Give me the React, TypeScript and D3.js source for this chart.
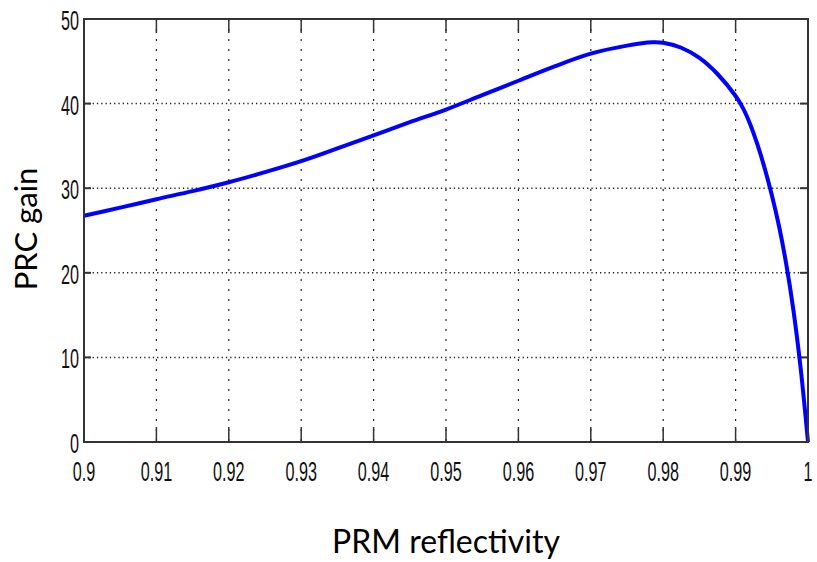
import React from "react";
import * as d3 from "d3";

// PRC gain as a function of PRM reflectivity
const reflectivity = [
  0.9, 0.905, 0.91, 0.915, 0.92, 0.925, 0.93, 0.935, 0.94, 0.945, 0.95, 0.955,
  0.96, 0.965, 0.97, 0.975, 0.9785, 0.98, 0.9825, 0.985, 0.9875, 0.99, 0.991,
  0.992, 0.993, 0.994, 0.995, 0.996, 0.997, 0.998, 0.999, 1.0,
];
const gain = [
  26.75, 27.7, 28.7, 29.65, 30.7, 31.9, 33.2, 34.7, 36.25, 37.8, 39.3, 41.0,
  42.7, 44.4, 45.9, 46.85, 47.25, 47.2, 46.6, 45.4, 43.5, 40.9, 39.5,
  37.6, 35.2, 32.4, 29.2, 25.5, 21.0, 15.5, 8.6, 0,
];

const xTicks = [0.9, 0.91, 0.92, 0.93, 0.94, 0.95, 0.96, 0.97, 0.98, 0.99, 1];
const xTickLabels = ["0.9", "0.91", "0.92", "0.93", "0.94", "0.95", "0.96", "0.97", "0.98", "0.99", "1"];
const yTicks = [0, 10, 20, 30, 40, 50];
const yTickLabels = ["0", "10", "20", "30", "40", "50"];

const W = 817;
const H = 562;
const left = 84;
const right = 808;
const top = 19;
const bottom = 442;

const tickFont = "'Liberation Sans', Arial, sans-serif";
const titleFont = "Lato, 'Open Sans', sans-serif";
const squeeze = 0.6;

export default function App() {
  const x = d3.scaleLinear().domain([0.9, 1]).range([left, right]);
  const y = d3.scaleLinear().domain([0, 50]).range([bottom, top]);
  const pts: [number, number][] = reflectivity.map((r, i) => [r, gain[i]]);
  const line = d3
    .line<[number, number]>()
    .x((d) => x(d[0]))
    .y((d) => y(d[1]))
    .curve(d3.curveCatmullRom.alpha(0.5));

  return (
    <svg
      width={W}
      height={H}
      style={{ position: "absolute", left: 0, top: 0, background: "#fff" }}
    >
      {/* dotted grid */}
      {xTicks.slice(1, -1).map((t) => (
        <line
          key={"gx" + t}
          x1={x(t)}
          x2={x(t)}
          y1={top}
          y2={bottom}
          stroke="#222"
          strokeWidth={1.2}
          strokeDasharray="2,8"
        />
      ))}
      {yTicks.slice(1, -1).map((t) => (
        <line
          key={"gy" + t}
          x1={left}
          x2={right}
          y1={y(t)}
          y2={y(t)}
          stroke="#222"
          strokeWidth={1.5}
          strokeDasharray="1.3,3"
        />
      ))}

      {/* ticks on all four sides, pointing inwards */}
      {xTicks.map((t) => (
        <g key={"tx" + t} stroke="#333" strokeWidth={1.5}>
          <line x1={x(t)} x2={x(t)} y1={bottom} y2={bottom - 15} />
          <line x1={x(t)} x2={x(t)} y1={top} y2={top + 14} />
        </g>
      ))}
      {yTicks.map((t) => (
        <g key={"ty" + t} stroke="#333" strokeWidth={2}>
          <line x1={left} x2={left + 7} y1={y(t)} y2={y(t)} />
          <line x1={right} x2={right - 8} y1={y(t)} y2={y(t)} />
        </g>
      ))}

      {/* curve */}
      <path d={line(pts) ?? ""} fill="none" stroke="#0000ff" strokeWidth={4} strokeLinejoin="round" />

      {/* frame */}
      <rect
        x={left}
        y={top}
        width={right - left}
        height={bottom - top}
        fill="none"
        stroke="#333"
        strokeWidth={2}
      />

      {/* tick labels */}
      {xTicks.map((t, i) => (
        <text
          key={"lx" + t}
          transform={`translate(${x(t)},${481}) scale(${squeeze},1)`}
          textAnchor="middle"
          fontFamily={tickFont}
          fontSize={27}
          fill="#111"
        >
          {xTickLabels[i]}
        </text>
      ))}
      {yTicks.map((t, i) => (
        <text
          key={"ly" + t}
          transform={`translate(${79},${y(t) + 11}) scale(${squeeze},1)`}
          textAnchor="end"
          fontFamily={tickFont}
          fontSize={27}
          fill="#111"
        >
          {yTickLabels[i]}
        </text>
      ))}

      {/* axis titles */}
      <text
        x={446}
        y={553}
        textAnchor="middle"
        fontFamily={titleFont}
        fontSize={32}
        fill="#000"
      >
        PRM reflectivity
      </text>
      <text
        transform={`translate(37,229) rotate(-90)`}
        textAnchor="middle"
        fontFamily={titleFont}
        fontSize={31}
        fill="#000"
      >
        PRC gain
      </text>
    </svg>
  );
}
